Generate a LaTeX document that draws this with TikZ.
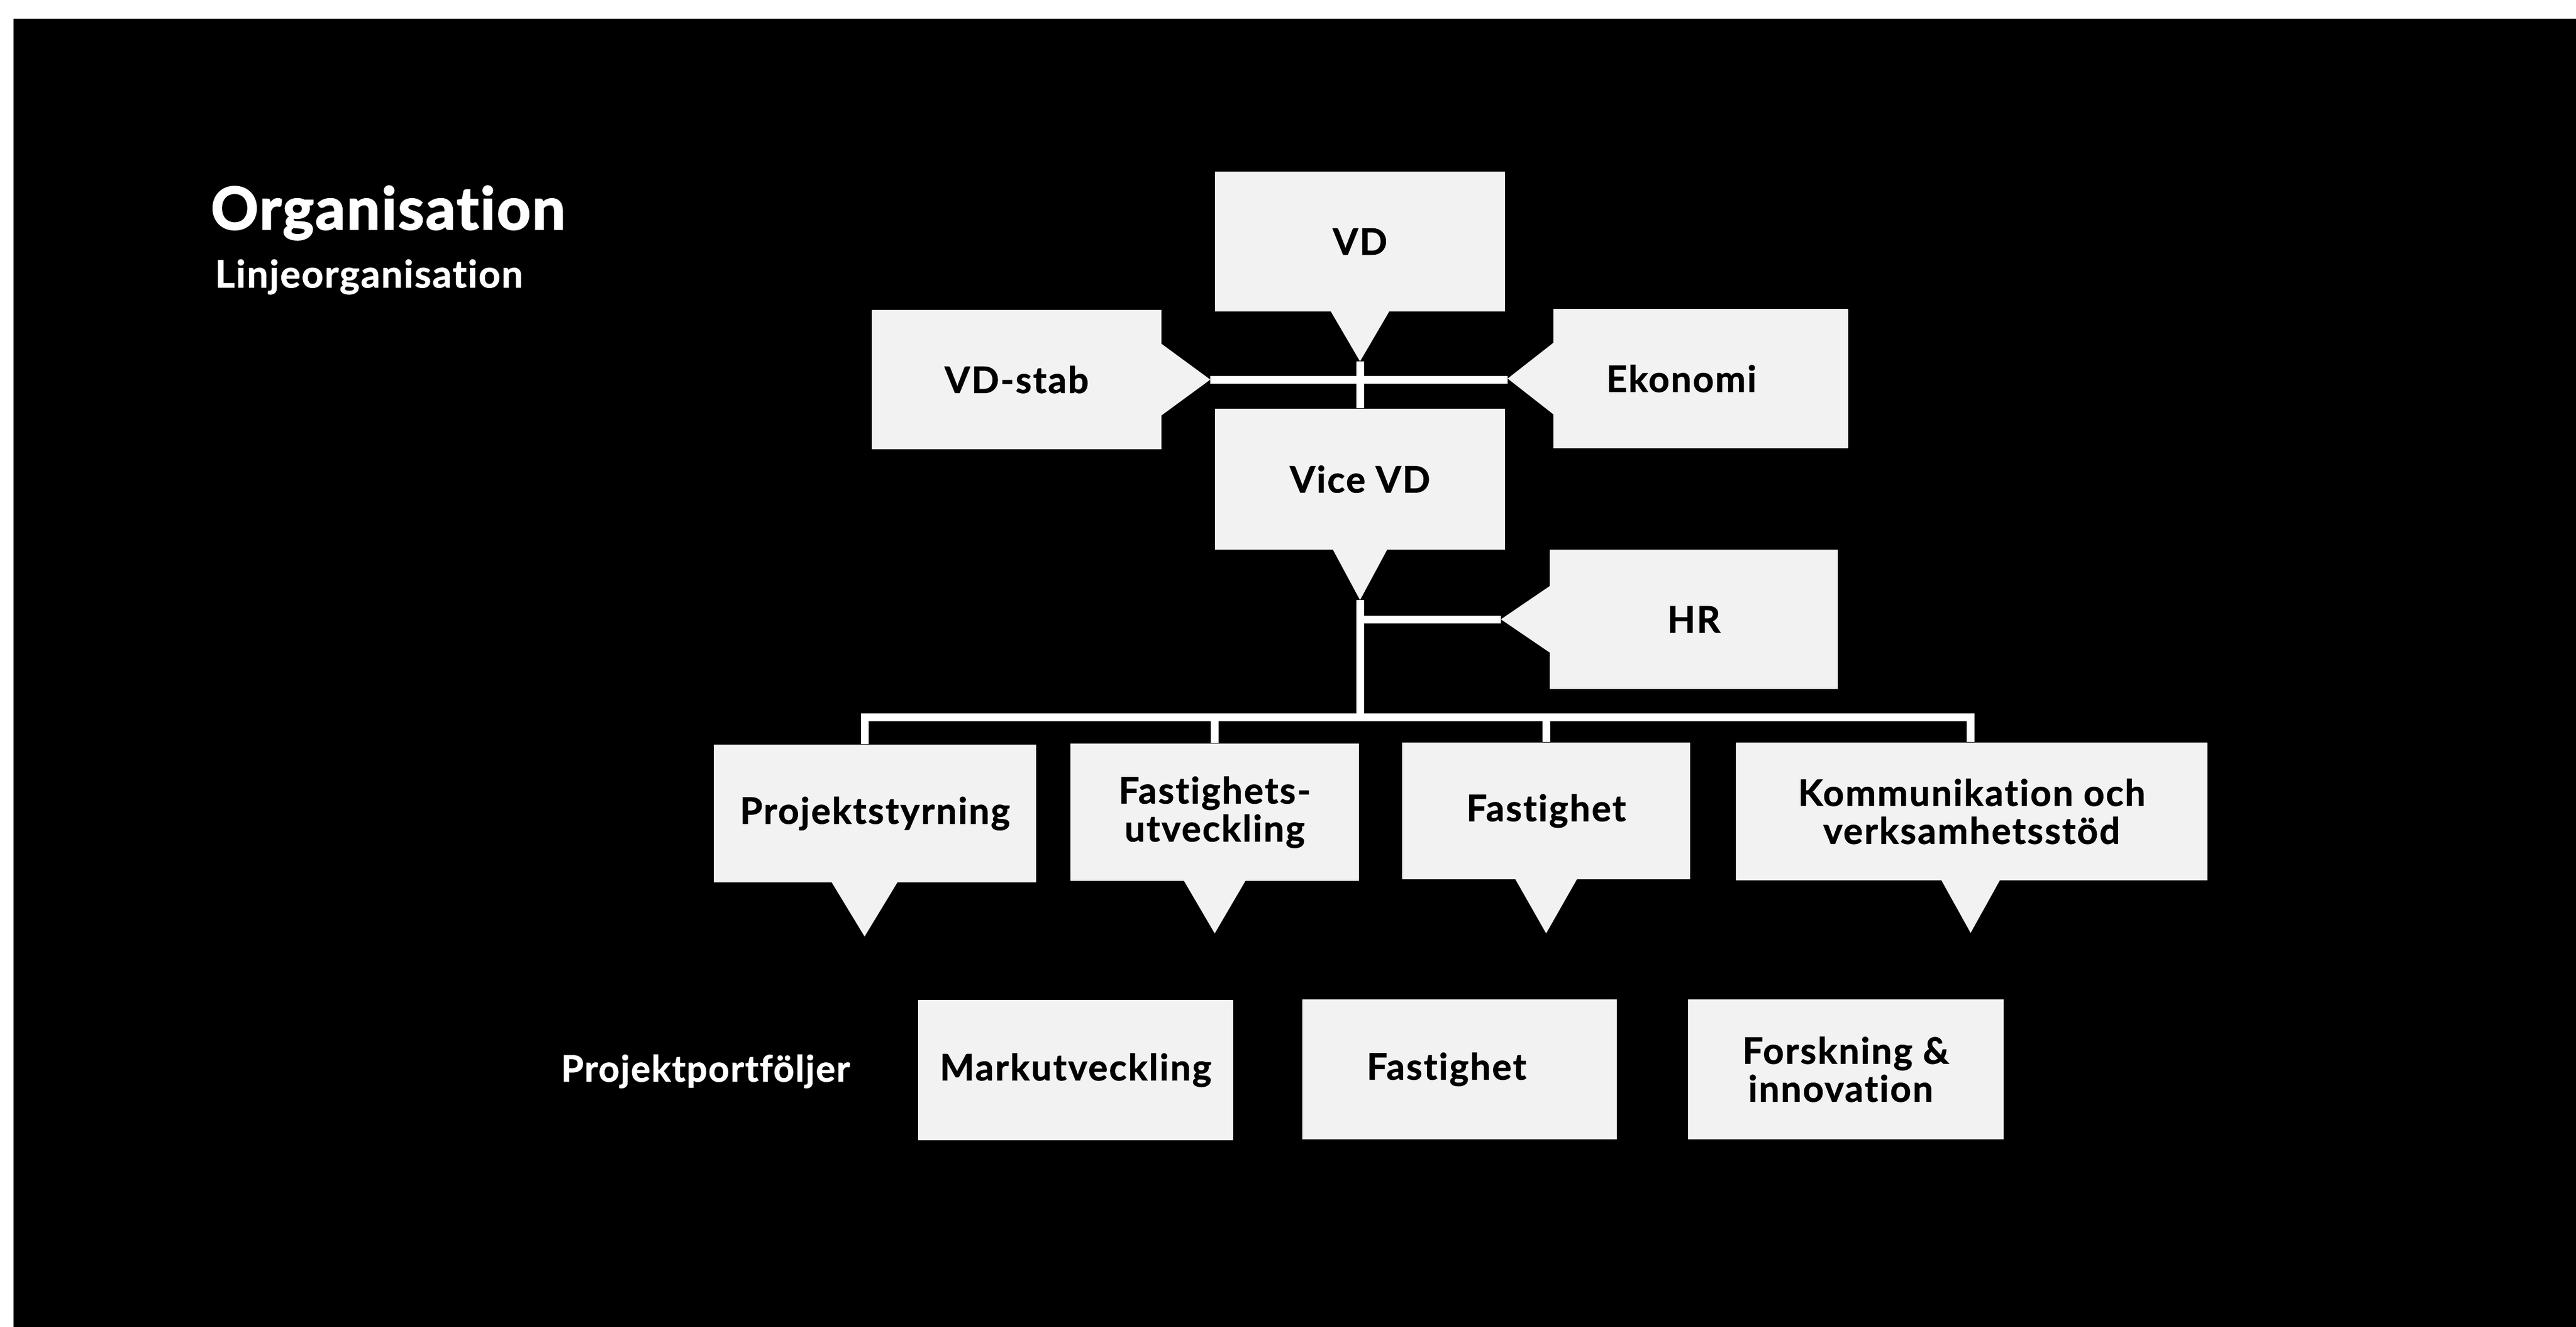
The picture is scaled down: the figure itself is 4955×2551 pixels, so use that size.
\documentclass[tikz,border=0pt]{standalone}
\usepackage{fontspec}
\setmainfont{Lato}[RawFeature=-liga, BoldFeatures={FakeBold=1.2}]
\newfontfamily\heavyfont{Lato}[RawFeature=-liga, BoldFeatures={FakeBold=2.6}]
\definecolor{boxc}{HTML}{F2F2F2}
\newcommand\bxfont{\addfontfeature{LetterSpace=4}\bfseries\fontsize{14}{14.6}\selectfont}
\begin{document}
\begin{tikzpicture}[x=0.2pt,y=-0.2pt,
  conn/.style={draw=white, line width=3pt, line join=miter},
  box/.style={fill=boxc, inner sep=0pt, text=black, font=\bxfont, align=center},
  ptr/.style={fill=boxc},
  ttl/.style={text=white, inner sep=0pt, anchor=base west}
]
\useasboundingbox (0,0) rectangle (4955,2551);
\fill[white] (-20,-20) rectangle (4975,2571);
\fill[black] (26,36) rectangle (4975,2571);

% titles
\node[ttl, font=\heavyfont\bfseries\fontsize{22.5}{26}\selectfont\addfontfeature{LetterSpace=3}] (title) at (405,441) {Organisation};
\node[ttl, font=\bfseries\fontsize{14.6}{17}\selectfont\addfontfeature{LetterSpace=3}] (sub) at (413,553) {Linjeorganisation};
\node[text=white, inner sep=0pt, anchor=base, font=\bfseries\fontsize{14}{16}\selectfont\addfontfeature{LetterSpace=3}] (pp) at (1357,2080) {Projektportföljer};

% top boxes
\node[box, minimum width=111.6pt, minimum height=53.8pt] (vd) at (2616,464.5) {VD};
\node[box, minimum width=111.4pt, minimum height=53.6pt] (stab) at (1955.5,730) {VD-stab};
\node[box, minimum width=113.4pt, minimum height=53.6pt] (eko) at (3271.5,728) {Ekonomi\hspace*{15pt}};
\node[box, minimum width=111.6pt, minimum height=54.2pt] (vice) at (2616,921.5) {Vice VD};
\node[box, minimum width=110.8pt, minimum height=53.6pt] (hr) at (3258,1191) {HR};

% pointers of top boxes
\fill[ptr] ([xshift=-11.4pt,yshift=0.5pt]vd.south) -- ([yshift=-19pt]vd.south) coordinate (vdtip) -- ([xshift=11.4pt,yshift=0.5pt]vd.south) -- cycle;
\fill[ptr] ([xshift=-10.6pt,yshift=0.5pt]vice.south) -- ([yshift=-19.2pt]vice.south) coordinate (vicetip) -- ([xshift=10.6pt,yshift=0.5pt]vice.south) -- cycle;
\fill[ptr] ([xshift=-0.5pt,yshift=14pt]stab.east) -- ([xshift=18.6pt]stab.east) coordinate (stabtip) -- ([xshift=-0.5pt,yshift=-14pt]stab.east) -- cycle;
\fill[ptr] ([xshift=0.5pt,yshift=14pt]eko.west) -- ([xshift=-17.4pt]eko.west) coordinate (ekotip) -- ([xshift=0.5pt,yshift=-14pt]eko.west) -- cycle;
\fill[ptr] ([xshift=0.5pt,yshift=13pt]hr.west) -- ([xshift=-18.6pt]hr.west) coordinate (hrtip) -- ([xshift=0.5pt,yshift=-13pt]hr.west) -- cycle;

% department boxes
\node[box, minimum width=124pt, minimum height=53pt] (ps) at (1683,1564.5) {Projektstyrning};
\node[box, minimum width=111pt, minimum height=52.8pt] (fu) at (2336.5,1562) {Fastighets-\\utveckling};
\node[box, minimum width=110.8pt, minimum height=52.6pt] (fa) at (2974,1559.5) {Fastighet};
\node[box, minimum width=181.4pt, minimum height=53pt] (kv) at (3792.5,1560.5) {Kommunikation och\\verksamhetsstöd};

\fill[ptr] ([xshift=-16.8pt,yshift=0.5pt]ps.south) -- ([xshift=-4pt,yshift=-20.6pt]ps.south) coordinate (pstip) -- ([xshift=8.8pt,yshift=0.5pt]ps.south) -- cycle;
\fill[ptr] ([xshift=-12pt,yshift=0.5pt]fu.south) -- ([yshift=-20pt]fu.south) coordinate (futip) -- ([xshift=12pt,yshift=0.5pt]fu.south) -- cycle;
\fill[ptr] ([xshift=-12pt,yshift=0.5pt]fa.south) -- ([yshift=-20.6pt]fa.south) coordinate (fatip) -- ([xshift=12pt,yshift=0.5pt]fa.south) -- cycle;
\fill[ptr] ([xshift=-11.8pt,yshift=0.5pt]kv.south) -- ([xshift=-0.4pt,yshift=-20pt]kv.south) coordinate (kvtip) -- ([xshift=11pt,yshift=0.5pt]kv.south) -- cycle;

% portfolio boxes
\node[box, minimum width=121.2pt, minimum height=54pt] (mu) at (2069,2058) {Markutveckling};
\node[box, minimum width=121pt, minimum height=53.8pt] (fp) at (2807.5,2056.5) {Fastighet\hspace*{10pt}};
\node[box, minimum width=121.4pt, minimum height=53.8pt] (fi) at (3550.5,2056.5) {Forskning \&\\innovation\hspace*{4pt}};

% connectors
\coordinate (busy) at (0,1379);
\draw[conn] (vdtip) -- (vice.north);
\draw[conn] (stabtip) -- (stabtip -| ekotip);
\draw[conn] (vicetip) -- (vicetip |- busy);
\draw[conn] (hrtip) -- (hrtip -| vicetip);
\draw[conn] ([xshift=-4pt]ps.north) |- ([xshift=-0.4pt]kv.north |- busy) -- ([xshift=-0.4pt]kv.north);
\draw[conn] (fu.north) -- (fu.north |- busy);
\draw[conn] (fa.north) -- (fa.north |- busy);
\end{tikzpicture}
\end{document}
